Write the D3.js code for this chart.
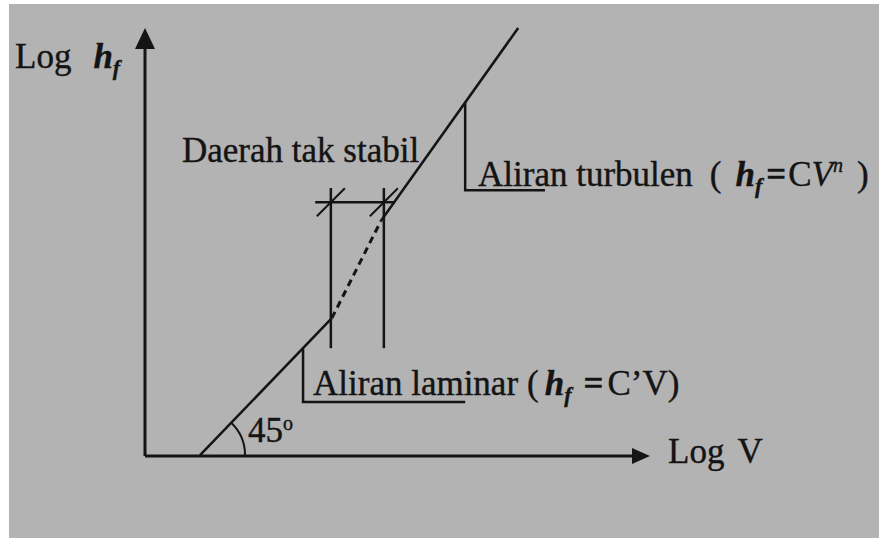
<!DOCTYPE html>
<html>
<head>
<meta charset="utf-8">
<script src="https://cdn.jsdelivr.net/npm/d3@7"></script>
<style>
  html, body { margin: 0; padding: 0; background: #fff; }
</style>
</head>
<body>
<div id="chart"></div>
<script>
const width = 879;
const height = 539;

// diagram values, in axis units (0..100 on both log axes)
const laminarLine = [[10.9, 0.2], [37.0, 32.2]];
const unstableLine = [[37.0, 32.2], [46.7, 54.9]];
const turbulentLine = [[46.7, 54.9], [73.9, 100]];
const boundaryX = [36.8, 47.3];
const boundaryY = [25.2, 62.6];
const zoneBar = { x0: 33.7, x1: 49.5, y: 59.3 };
const laminarLeader = [[31.3, 25.2], [31.3, 12.6], [63.4, 12.6]];
const turbulentLeader = [[63.4, 82.6], [63.4, 62.1], [79.2, 62.1]];
const angleLabel = "45";

const serif = "'Liberation Serif', 'Times New Roman', 'DejaVu Serif', serif";
const ink = "#141414";

const svg = d3.select("#chart").append("svg")
    .attr("width", width)
    .attr("height", height)
    .style("font-family", serif);

svg.append("rect")
    .attr("x", 9).attr("y", 4)
    .attr("width", width - 9).attr("height", 534)
    .attr("fill", "#b3b3b3");

const x = d3.scaleLinear().domain([0, 100]).range([145, 650]);
const y = d3.scaleLinear().domain([0, 100]).range([456, 28]);

const line = d3.line()
    .x(d => x(d[0]))
    .y(d => y(d[1]));

// axes
svg.append("path")
    .attr("d", line([[0, 0], [0, 95.5]]))
    .attr("stroke", ink).attr("stroke-width", 3).attr("fill", "none");
svg.append("path")
    .attr("d", line([[0, 0], [96.7, 0]]))
    .attr("stroke", ink).attr("stroke-width", 3).attr("fill", "none");

// arrow heads
svg.append("path")
    .attr("d", `M${x(0)},${y(100)} L${x(0) - 10},${y(100) + 21} L${x(0) + 10},${y(100) + 21} Z`)
    .attr("fill", ink);
svg.append("path")
    .attr("d", `M${x(100)},${y(0)} L${x(100) - 18},${y(0) - 8} L${x(100) - 18},${y(0) + 8} Z`)
    .attr("fill", ink);

// flow lines
svg.append("path")
    .attr("d", line(laminarLine))
    .attr("stroke", ink).attr("stroke-width", 2.5).attr("fill", "none");
svg.append("path")
    .attr("d", line(unstableLine))
    .attr("stroke", ink).attr("stroke-width", 3).attr("fill", "none")
    .attr("stroke-dasharray", "7,5");
svg.append("path")
    .attr("d", line(turbulentLine))
    .attr("stroke", ink).attr("stroke-width", 2.5).attr("fill", "none");

// unstable zone boundaries
svg.selectAll(".bound")
    .data(boundaryX)
    .enter().append("path")
    .attr("class", "bound")
    .attr("d", d => line([[d, boundaryY[0]], [d, boundaryY[1]]]))
    .attr("stroke", ink).attr("stroke-width", 2.5).attr("fill", "none");

svg.append("path")
    .attr("d", line([[zoneBar.x0, zoneBar.y], [zoneBar.x1, zoneBar.y]]))
    .attr("stroke", ink).attr("stroke-width", 2.5).attr("fill", "none");

// slash ticks where the bar meets the boundaries
svg.selectAll(".slash")
    .data(boundaryX)
    .enter().append("path")
    .attr("class", "slash")
    .attr("d", d => `M${x(d) - 14},${y(zoneBar.y) + 14} L${x(d) + 14},${y(zoneBar.y) - 14}`)
    .attr("stroke", ink).attr("stroke-width", 2).attr("fill", "none");

// label leaders
[laminarLeader, turbulentLeader].forEach(pts => {
    svg.append("path")
        .attr("d", line(pts))
        .attr("stroke", ink).attr("stroke-width", 2.5).attr("fill", "none");
});

// 45 degree angle arc
const cx = x(laminarLine[0][0]), cy = y(laminarLine[0][1]);
const ang = Math.atan2(y(laminarLine[0][1]) - y(laminarLine[1][1]), x(laminarLine[1][0]) - x(laminarLine[0][0]));
const arc = d3.path();
arc.moveTo(cx + 45 * Math.cos(-ang), cy + 45 * Math.sin(-ang));
arc.arc(cx, cy, 45, -ang, 0);
svg.append("path")
    .attr("d", arc.toString())
    .attr("stroke", ink).attr("stroke-width", 2).attr("fill", "none");

// texts
const fs = 35;
function label(px, py) {
    return svg.append("text")
        .attr("x", px).attr("y", py)
        .attr("font-family", serif)
        .attr("font-size", fs)
        .attr("fill", ink)
        .attr("stroke", ink)
        .attr("stroke-width", 0.4);
}

const yl = label(15, 68);
yl.append("tspan").text("Log");
yl.append("tspan").attr("dx", 22).attr("font-style", "italic").attr("font-weight", "bold").text("h");
yl.append("tspan").attr("dy", 7).attr("font-size", 22).attr("font-style", "italic").attr("font-weight", "bold").text("f");

const xl = label(668, 463);
xl.append("tspan").text("Log");
xl.append("tspan").attr("dx", 13).text("V");

label(182, 162).text("Daerah tak stabil");

const al = label(248, 442);
al.append("tspan").text(angleLabel);
al.append("tspan").attr("dy", -12).attr("font-size", 20).text("o");

const lam = label(313, 395);
lam.append("tspan").text("Aliran laminar");
lam.append("tspan").attr("dx", 9).text("(");
lam.append("tspan").attr("dx", 6).attr("font-style", "italic").attr("font-weight", "bold").text("h");
lam.append("tspan").attr("dy", 7).attr("font-size", 22).attr("font-style", "italic").attr("font-weight", "bold").text("f");
lam.append("tspan").attr("dy", -7).attr("dx", 12).attr("font-weight", "bold").text("=");
lam.append("tspan").attr("dx", 4).text("C\u2019V)");

const tur = label(478, 186);
tur.append("tspan").text("Aliran turbulen");
tur.append("tspan").attr("dx", 17).text("(");
tur.append("tspan").attr("dx", 14).attr("font-style", "italic").attr("font-weight", "bold").text("h");
tur.append("tspan").attr("dy", 7).attr("font-size", 22).attr("font-style", "italic").attr("font-weight", "bold").text("f");
tur.append("tspan").attr("dy", -7).attr("dx", 4).attr("font-weight", "bold").text("=");
tur.append("tspan").attr("dx", 2).text("C");
tur.append("tspan").attr("font-style", "italic").text("V");
tur.append("tspan").attr("dy", -14).attr("font-size", 20).attr("font-style", "italic").text("n");
tur.append("tspan").attr("dy", 14).attr("dx", 14).text(")");
</script>
</body>
</html>
